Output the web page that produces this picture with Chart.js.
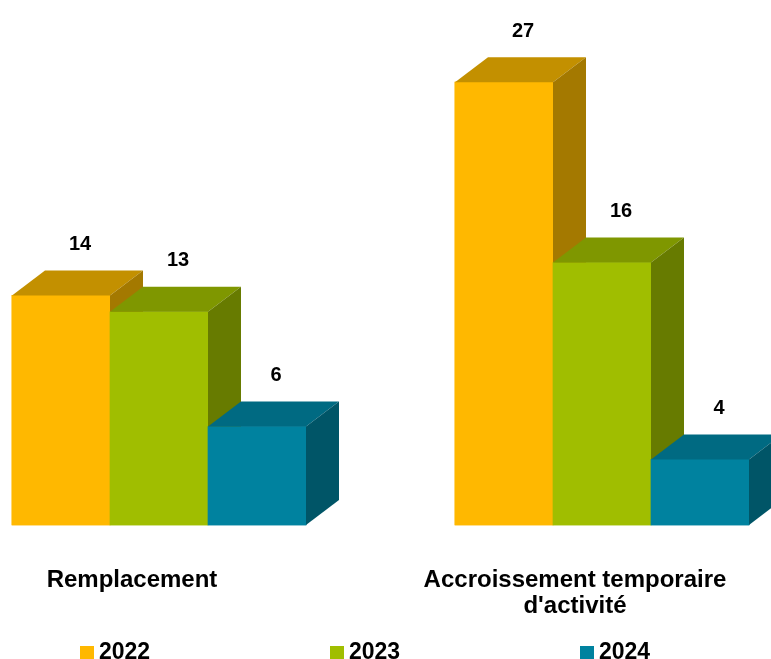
<!DOCTYPE html>
<html><head><meta charset="utf-8">
<script src="https://cdn.jsdelivr.net/npm/chart.js@4.4.1/dist/chart.umd.min.js"></script>
<style>html,body{margin:0;padding:0;background:#fff;overflow:hidden}</style>
</head><body>
<canvas id="c" width="771" height="659"></canvas>
<script>
// ---- data ----
const categories = [["Remplacement"], ["Accroissement temporaire", "d'activité"]];
const seriesNames = ["2022", "2023", "2024"];
const values2022 = [14, 27];
const values2023 = [13, 16];
const values2024 = [6, 4];

// ---- styles ----
const frontColors = ["#FFB800", "#A0BE00", "#00829F"];
const topColors   = ["#C39000", "#7F9700", "#006A82"];
const sideColors  = ["#A47900", "#677B00", "#005567"];
const FONT = '"Liberation Sans", Arial, sans-serif';
const DX = 33, DY = 25;

const bars3d = {
  id: 'bars3d',
  afterDatasetsDraw(chart) {
    const ctx = chart.ctx;
    ctx.save();
    chart.data.datasets.forEach((ds, di) => {
      const meta = chart.getDatasetMeta(di);
      meta.data.forEach((el) => {
        el.draw(ctx);
        const p = el.getProps(['x', 'y', 'base', 'width'], true);
        const l = p.x - p.width / 2, r = p.x + p.width / 2;
        ctx.fillStyle = topColors[di];
        ctx.beginPath();
        ctx.moveTo(l, p.y); ctx.lineTo(l + DX, p.y - DY); ctx.lineTo(r + DX, p.y - DY); ctx.lineTo(r, p.y);
        ctx.closePath(); ctx.fill();
        ctx.fillStyle = sideColors[di];
        ctx.beginPath();
        ctx.moveTo(r, p.y); ctx.lineTo(r + DX, p.y - DY); ctx.lineTo(r + DX, p.base - DY); ctx.lineTo(r, p.base);
        ctx.closePath(); ctx.fill();
      });
    });
    // value labels
    ctx.fillStyle = '#000';
    ctx.font = 'bold 20px ' + FONT;
    ctx.textAlign = 'center';
    ctx.textBaseline = 'middle';
    chart.data.datasets.forEach((ds, di) => {
      const meta = chart.getDatasetMeta(di);
      meta.data.forEach((el, i) => {
        const p = el.getProps(['x', 'y'], true);
        ctx.fillText(String(ds.data[i]), p.x + 19, p.y - 51);
      });
    });
    ctx.restore();
  },
  afterDraw(chart) {
    const ctx = chart.ctx;
    ctx.save();
    ctx.font = 'bold 23px ' + FONT;
    ctx.textAlign = 'left';
    ctx.textBaseline = 'alphabetic';
    chart.data.datasets.forEach((ds, di) => {
      const bx = 80 + di * 250;
      ctx.fillStyle = ds.backgroundColor;
      ctx.fillRect(bx, 646, 14, 14);
      ctx.fillStyle = '#000';
      ctx.fillText(ds.label, bx + 19, 659);
    });
    ctx.restore();
  }
};

const seriesValues = [values2022, values2023, values2024];
new Chart(document.getElementById('c'), {
  type: 'bar',
  data: {
    labels: categories,
    datasets: seriesNames.map((n, i) => ({
      label: n,
      data: seriesValues[i],
      backgroundColor: frontColors[i],
      borderWidth: 0,
      barThickness: 98,
      clip: false
    }))
  },
  options: {
    responsive: false,
    animation: false,
    devicePixelRatio: 1,
    layout: { padding: { left: 159, right: 169, top: 33, bottom: 0 } },
    plugins: { legend: { display: false }, tooltip: { enabled: false } },
    scales: {
      x: {
        offset: false,
        grid: { display: false, drawTicks: false },
        border: { display: false },
        ticks: {
          color: '#000',
          font: { family: FONT, size: 24, weight: 'bold', lineHeight: 1.083 },
          padding: 42,
          labelOffset: -27,
          maxRotation: 0,
          autoSkip: false
        },
        afterFit(scale) {
          scale.height = 134;
          scale.paddingLeft = 0;
          scale.paddingRight = 0;
        }
      },
      y: {
        display: false,
        min: 0,
        max: 30
      }
    }
  },
  plugins: [bars3d]
});
</script>
</body></html>
